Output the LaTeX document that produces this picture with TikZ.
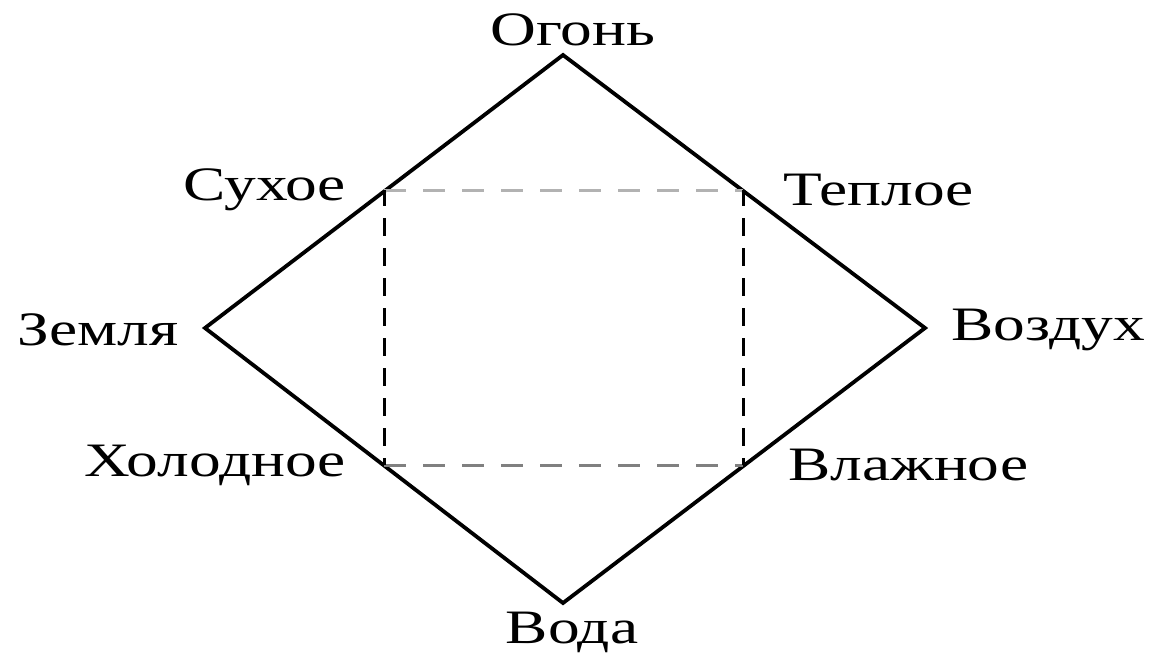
\documentclass[tikz,border=0pt]{standalone}
\usepackage{fontspec}
\setmainfont{Liberation Serif}[FakeStretch=1.32]
\begin{document}
\begin{tikzpicture}[x=1pt, y=-1pt]
    \tikzset{
        lbl/.style={font=\fontsize{48}{50}\selectfont, inner sep=0pt},
        edge/.style={line width=3.8pt, line join=miter},
        hq/.style={line width=3pt, dash pattern=on 22pt off 17pt},
        vq/.style={line width=3pt, dash pattern=on 18pt off 12pt, dash phase=-28pt}
    }
    \useasboundingbox (0,0) rectangle (1153,656);
    % diamond of the elements
    \coordinate (top) at (563,55);
    \coordinate (left) at (205,328);
    \coordinate (right) at (925,328);
    \coordinate (bottom) at (563,603);
    \draw[edge] (top) -- (right) -- (bottom) -- (left) -- cycle;
    % square of the qualities
    \coordinate (dry) at (384,190);
    \coordinate (warm) at (743,190);
    \coordinate (cold) at (384,465);
    \coordinate (wet) at (743,465);
    \draw[hq, black!30] (dry) -- (warm);
    \draw[hq, black!50] (cold) -- (wet);
    \draw[vq] (dry) -- (cold);
    \draw[vq] (warm) -- (wet);
    % labels
    \node[lbl] (fire) at (573,30) {Огонь};
    \node[lbl] (earth) at (98,330) {Земля};
    \node[lbl] (air) at (1048,330) {Воздух};
    \node[lbl] (water) at (572,632) {Вода};
    \node[lbl, anchor=east] (drylbl) at (346,190) {Сухое};
    \node[lbl, anchor=west] (warmlbl) at (783,190) {Теплое};
    \node[lbl, anchor=east] (coldlbl) at (346,465) {Холодное};
    \node[lbl, anchor=west] (wetlbl) at (788,465) {Влажное};
\end{tikzpicture}
\end{document}
